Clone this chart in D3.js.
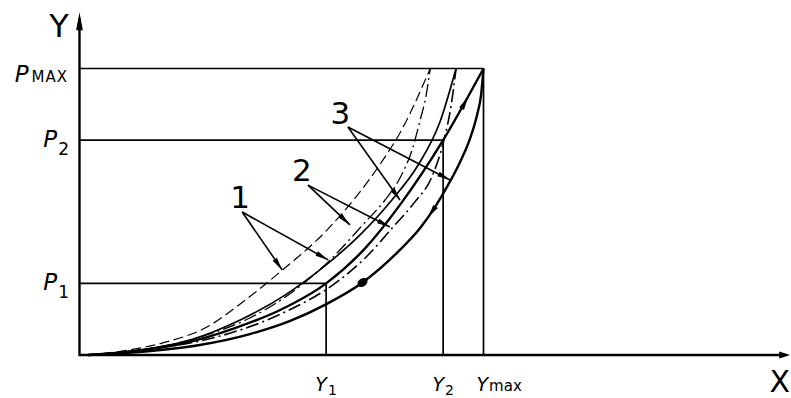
<!DOCTYPE html>
<html>
<head>
<meta charset="utf-8">
<script src="https://cdn.jsdelivr.net/npm/d3@7"></script>
<style>
  html, body { margin: 0; padding: 0; background: #fff; }
  svg { display: block; }
  text { font-family: "DejaVu Sans", "Liberation Sans", sans-serif; fill: #000; }
</style>
</head>
<body>
<svg id="chart" width="791" height="398"></svg>
<script>
// Load levels on the Y axis and the displacements they give (units: Pmax = Ymax = 100)
const levelLabels = ["1", "2", "MAX"];
const levelValues = [25, 75, 100];
const dispLabels = ["1", "2", "max"];
const dispValues = [61, 90, 100];

// Curve 1: loading branch and unloading branch
const curve1Load = [[2,0],[12.4,1.8],[22.3,4.9],[31,9.4],[39.7,17.8],[49.6,29],[61.2,43.6],[75.1,68.1],[79.3,77.5],[86.8,100]];
const curve1Unload = [[2,0],[14.9,1.7],[29.7,6.3],[42.1,12.9],[53.3,22.7],[61.5,32.5],[70.7,46.4],[75.6,54.1],[79.3,61.8],[82.3,71.6],[84.3,82],[85.8,90.8],[86.8,100]];

// Curve 2
const curve2Load = [[2,0],[14.9,1.7],[27.3,5.2],[39.7,12.2],[50.8,20.9],[60.7,31.1],[69.4,41.9],[77.3,54.1],[83.8,66.3],[89.2,81.3],[93.2,100]];
const curve2Unload = [[2,0],[17.4,2.1],[34.7,6.6],[50.8,15.0],[63.7,25.5],[71.4,34.9],[77.6,44.7],[82.8,53.1],[87.3,62.5],[90.2,75],[92,87.3],[93.2,100]];

// Curve 3 (working curve, passes through P1/Y1, P2/Y2, Pmax/Ymax)
const curve3Load = [[2,0],[13.6,1.4],[26,4.2],[38.4,9.4],[49.6,15.7],[61,25],[70.7,37.3],[79.3,52.4],[90,75],[100,100]];
const curve3Unload = [[2,0],[17.4,1.4],[29.7,3.5],[42.1,7.3],[52.1,11.9],[60.7,17.5],[70.2,25.5],[78.8,36],[84.3,44.3],[88,51.7],[91.2,59.3],[94.2,67.4],[96.7,75.7],[98.4,83.8],[99.4,90.8],[100,100]];

// Curve number callouts: label position, leader start, leader tips
const calloutText = ["1", "2", "3"];
const calloutPos = [[39.7,51.3],[55,60.7],[64.5,80.6]];
const calloutFrom = [[40.2,49.9],[56.5,59.3],[66.4,79.6]];
const calloutTips = [
  [[50.1,29.7],[61.5,33.2]],
  [[66.9,45.4],[76.8,44.7]],
  [[79.3,54.1],[91.7,61.1]]
];

const svg = d3.select("#chart");
const x = d3.scaleLinear().domain([0, 100]).range([80, 483.5]);
const y = d3.scaleLinear().domain([0, 100]).range([355, 68.5]);
const xEnd = 176, yEnd = 119.6;

const line = d3.line().x(d => x(d[0])).y(d => y(d[1])).curve(d3.curveMonotoneX);

// helper: filled narrow arrowhead with tip at (tx,ty), pointing along (ux,uy)
function arrowHead(g, tx, ty, ux, uy, len, hw) {
  const n = Math.hypot(ux, uy); ux /= n; uy /= n;
  const bx = tx - ux * len, by = ty - uy * len;
  g.append("path")
    .attr("d", `M${tx},${ty}L${bx - uy * hw},${by + ux * hw}L${bx + uy * hw},${by - ux * hw}Z`)
    .attr("fill", "#000");
}

// reference lines for P1/Y1, P2/Y2, Pmax/Ymax
const ref = svg.append("g").attr("stroke", "#000").attr("stroke-width", 1.7).attr("fill", "none");
levelValues.forEach((p, i) => {
  ref.append("line").attr("x1", x(0)).attr("x2", x(dispValues[i])).attr("y1", y(p)).attr("y2", y(p));
  ref.append("line").attr("x1", x(dispValues[i])).attr("x2", x(dispValues[i])).attr("y1", y(p)).attr("y2", y(0));
});

// curves
const curveSpecs = [
  { data: curve1Load,   w: 1.2, dash: "10,4.5" },
  { data: curve1Unload, w: 1.3, dash: "13,4,2,4" },
  { data: curve2Load,   w: 1.7, dash: null },
  { data: curve2Unload, w: 1.6, dash: "13,4,2,4" },
  { data: curve3Load,   w: 2.4, dash: null },
  { data: curve3Unload, w: 2.4, dash: null }
];
const paths = curveSpecs.map(s =>
  svg.append("path")
    .attr("d", line(s.data))
    .attr("fill", "none")
    .attr("stroke", "#000")
    .attr("stroke-width", s.w)
    .attr("stroke-linejoin", "round")
    .attr("stroke-dasharray", s.dash)
    .node()
);

// locate the path length closest to a data point
function nearestLength(pathNode, px, py) {
  const total = pathNode.getTotalLength();
  let best = 0, bestD = Infinity;
  for (let l = 0; l <= total; l += 0.5) {
    const p = pathNode.getPointAtLength(l);
    const d = (p.x - px) ** 2 + (p.y - py) ** 2;
    if (d < bestD) { bestD = d; best = l; }
  }
  return best;
}

// direction arrows on curve 3: up the loading branch, down the unloading branch
const marks = svg.append("g");
{
  const pn = paths[4];
  const l = nearestLength(pn, x(95.4), y(89.7));
  const a = pn.getPointAtLength(l - 2), b = pn.getPointAtLength(l + 2);
  arrowHead(marks, b.x, b.y, b.x - a.x, b.y - a.y, 13, 2.8);
}
{
  const pn = paths[5];
  const l = nearestLength(pn, x(86.8), y(48.5));
  const a = pn.getPointAtLength(l + 2), b = pn.getPointAtLength(l - 2);
  arrowHead(marks, b.x, b.y, b.x - a.x, b.y - a.y, 13, 2.8);
}
// point on the unloading branch at load P1
{
  const pn = paths[5];
  const l = nearestLength(pn, x(70.2), y(levelValues[0]));
  const p = pn.getPointAtLength(l), a = pn.getPointAtLength(l - 2), b = pn.getPointAtLength(l + 2);
  const ang = Math.atan2(b.y - a.y, b.x - a.x) * 180 / Math.PI;
  marks.append("ellipse").attr("cx", p.x).attr("cy", p.y).attr("rx", 5.5).attr("ry", 4)
    .attr("transform", `rotate(${ang},${p.x},${p.y})`).attr("fill", "#000");
}

// callouts
const co = svg.append("g");
calloutText.forEach((t, i) => {
  co.append("text").attr("x", x(calloutPos[i][0])).attr("y", y(calloutPos[i][1]))
    .attr("text-anchor", "middle").attr("font-size", 31).text(t);
  const [fx, fy] = [x(calloutFrom[i][0]), y(calloutFrom[i][1])];
  calloutTips[i].forEach(tp => {
    const tx = x(tp[0]), ty = y(tp[1]);
    co.append("line").attr("x1", fx).attr("y1", fy).attr("x2", tx).attr("y2", ty)
      .attr("stroke", "#000").attr("stroke-width", 1.6);
    arrowHead(co, tx, ty, tx - fx, ty - fy, 13, 2.6);
  });
});

// axes
const ax = svg.append("g");
ax.append("line").attr("x1", x(0)).attr("x2", x(xEnd) - 6).attr("y1", y(0)).attr("y2", y(0))
  .attr("stroke", "#000").attr("stroke-width", 2.4);
ax.append("line").attr("x1", x(0) - 0.5).attr("x2", x(0) - 0.5).attr("y1", y(0) + 1.2).attr("y2", y(yEnd) + 6)
  .attr("stroke", "#000").attr("stroke-width", 2.4);
arrowHead(ax, x(xEnd), y(0), 1, 0, 11, 3.4);
arrowHead(ax, x(0) - 0.5, y(yEnd), 0, -1, 18, 3.4);

ax.append("text").attr("x", x(0) - 21).attr("y", y(yEnd) + 25).attr("text-anchor", "middle")
  .attr("font-size", 32).text("Y");
ax.append("text").attr("x", 790).attr("y", 392).attr("text-anchor", "end")
  .attr("font-size", 30).text("X");

// load labels on the Y axis
const lab = svg.append("g");
levelValues.forEach((p, i) => {
  const big = levelLabels[i] === "MAX";
  const t = lab.append("text").attr("x", big ? 68 : 69).attr("y", y(p) + (big ? 13 : 7))
    .attr("text-anchor", "end");
  t.append("tspan").attr("font-style", "italic").attr("font-size", 23).text("P");
  if (big) {
    t.append("tspan").attr("font-size", 15).attr("dx", 3).attr("letter-spacing", 1).text(levelLabels[i]);
  } else {
    t.append("tspan").attr("font-size", 17).attr("dy", 8).attr("dx", 1).text(levelLabels[i]);
  }
});

// displacement labels on the X axis
dispValues.forEach((v, i) => {
  const isMax = dispLabels[i] === "max";
  const t = lab.append("text").attr("x", isMax ? x(v) - 7 : x(v)).attr("y", 391)
    .attr("text-anchor", isMax ? "start" : "middle");
  t.append("tspan").attr("font-style", "italic").attr("font-size", 19).text("Y");
  if (isMax) {
    t.append("tspan").attr("font-size", 15).attr("dx", 1).text(dispLabels[i]);
  } else {
    t.append("tspan").attr("font-size", 14).attr("dy", 4).attr("dx", 1).text(dispLabels[i]);
  }
});
</script>
</body>
</html>
